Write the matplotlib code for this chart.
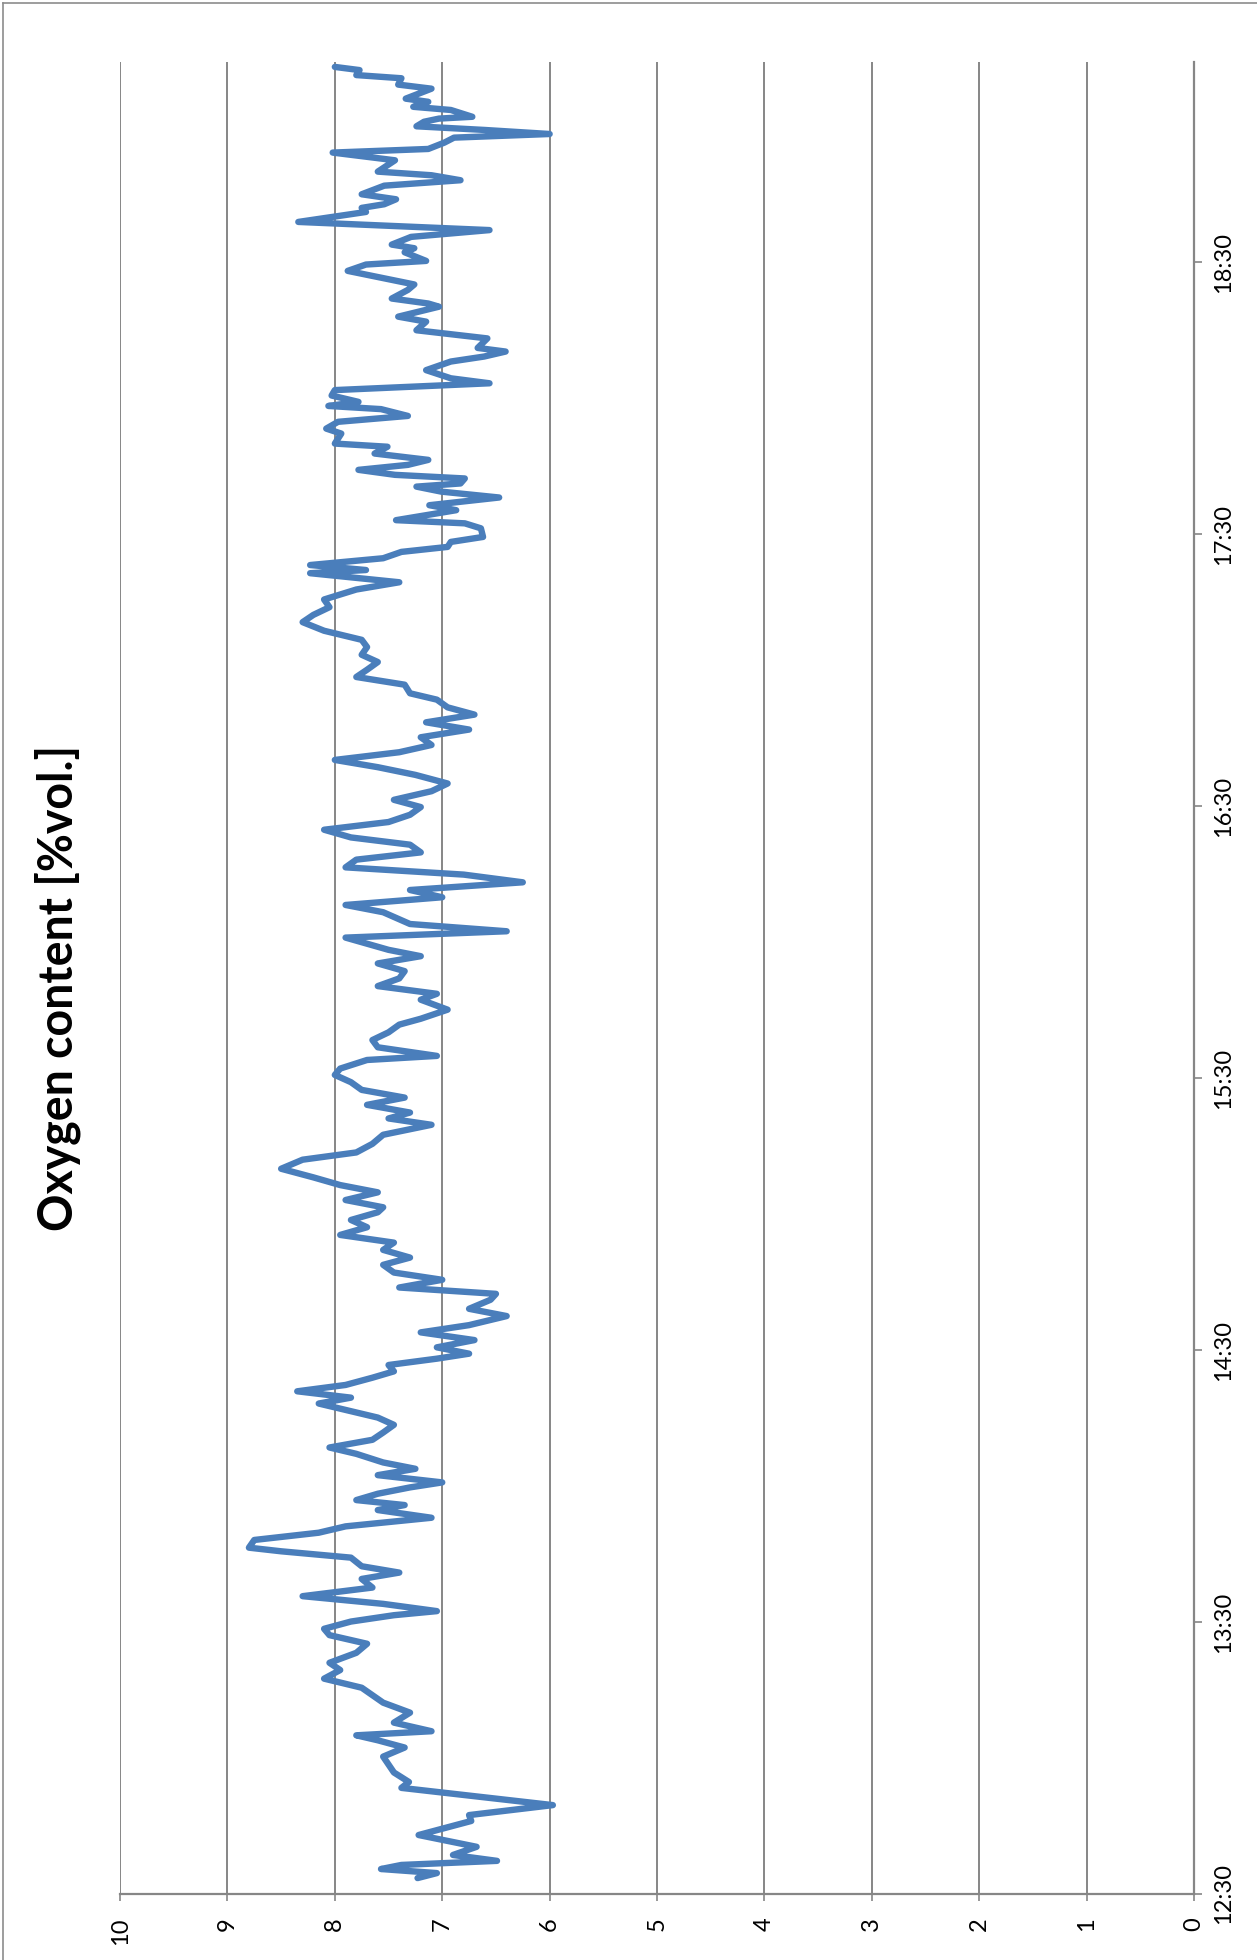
import matplotlib
matplotlib.use("Agg")
import matplotlib.pyplot as plt
from matplotlib.lines import Line2D

# Measurement log: minutes after 12:30 and oxygen content in %vol.
minutes = [
    3.5, 4.6, 5.5, 6.4, 7.3, 8.6, 10.4, 13.0, 16.1, 17.4, 19.6, 23.4, 24.7,
    26.8, 30.3, 32.3, 33.9, 35.0, 35.9, 37.8, 40.0, 42.2, 45.5, 47.5, 49.4,
    51.0, 53.2, 55.2, 57.1, 58.5, 60.1, 61.5, 62.4, 64.0, 65.7, 67.6, 69.5,
    70.9, 72.3, 74.2, 75.6, 76.4, 78.1, 79.7, 81.1, 83.0, 84.7, 85.8, 86.9,
    88.3, 89.7, 90.8, 92.4, 93.8, 95.2, 97.1, 98.5, 100.2, 101.8, 103.5,
    105.1, 106.8, 108.2, 109.5, 110.9, 112.3, 113.9, 115.3, 116.7, 118.1,
    119.2, 120.6, 122.2, 123.9, 125.5, 127.5, 129.1, 131.1, 132.4, 133.8,
    135.5, 137.1, 138.8, 140.4, 142.1, 143.7, 145.4, 147.1, 148.7, 150.4,
    151.5, 153.1, 154.8, 156.4, 158.1, 160.0, 162.0, 163.6, 165.5, 167.5,
    169.7, 171.1, 172.4, 174.1, 175.7, 177.4, 179.1, 180.7, 182.1, 184.0,
    184.9, 186.8, 188.4, 190.1, 191.8, 193.1, 195.1, 197.3, 198.6, 200.3,
    202.0, 203.6, 205.3, 206.9, 208.3, 210.0, 211.0, 212.4, 214.0, 216.6,
    218.2, 219.9, 221.5, 223.2, 224.9, 226.5, 228.2, 229.8, 231.5, 233.1,
    234.8, 236.5, 238.1, 239.8, 241.4, 243.3, 245.0, 246.9, 248.6, 250.2,
    251.9, 253.5, 255.2, 256.9, 258.5, 260.2, 261.8, 263.5, 264.9, 266.8,
    268.5, 270.1, 271.8, 273.4, 275.1, 276.7, 278.7, 280.6, 282.2, 283.9,
    285.6, 287.8, 289.4,
    291.4, 292.1, 293.2, 294.7, 296.1, 297.2, 298.3, 299.4, 301.3, 302.4,
    303.1, 305.3, 306.4, 308.1, 309.4, 310.5, 311.2, 312.3, 313.1, 314.2,
    315.3, 316.4, 317.8, 319.3, 320.0, 322.2, 323.3, 324.8, 326.1, 327.6,
    328.3, 329.2, 330.6, 331.8, 333.3, 334.4, 336.2, 338.1, 339.2, 340.3,
    341.1, 343.2, 344.3, 345.0, 346.9, 348.0, 350.2, 350.9, 352.0, 353.9,
    355.1, 358.1, 359.5, 360.3, 362.2, 363.1, 363.9, 365.6, 367.1, 368.9,
    371.1, 372.0, 372.8, 373.9, 375.0, 376.9, 378.1, 379.2, 380.0, 382.5,
    384.2, 385.0, 386.4, 387.5, 388.3, 389.2, 390.0, 391.0, 391.7, 392.1,
    393.6, 394.3, 395.4, 396.1, 398.3, 399.2, 400.6, 401.3, 402.4, 403.1,
]

o2 = [
    7.23, 7.05, 7.57, 7.38, 6.49, 6.90, 6.68, 7.22, 6.73, 6.75, 5.97, 7.38, 7.31,
    7.45, 7.55, 7.35, 7.60, 7.80, 7.10, 7.45, 7.30, 7.55, 7.75, 8.10, 7.95,
    8.05, 7.80, 7.70, 8.05, 8.10, 7.85, 7.45, 7.05, 7.55, 8.30, 7.65, 7.75,
    7.40, 7.75, 7.85, 8.50, 8.80, 8.75, 8.15, 7.90, 7.10, 7.60, 7.35, 7.80,
    7.60, 7.30, 7.00, 7.60, 7.25, 7.55, 7.80, 8.05, 7.65, 7.55, 7.45,
    7.60, 7.90, 8.15, 7.85, 8.35, 7.90, 7.65, 7.45, 7.50, 7.05,
    6.75, 7.05, 6.70, 7.20, 6.75, 6.40, 6.75, 6.55, 6.50, 7.40,
    7.00, 7.45, 7.55, 7.30, 7.55, 7.45, 7.95, 7.70, 7.85, 7.60,
    7.55, 7.90, 7.60, 7.95, 8.20, 8.50, 8.30, 7.80, 7.65, 7.55,
    7.10, 7.50, 7.30, 7.70, 7.35, 7.75, 7.85, 8.00, 7.95, 7.70,
    7.05, 7.60, 7.65, 7.50, 7.40, 7.20, 6.95, 7.20, 7.05, 7.60,
    7.40, 7.35, 7.60, 7.20, 7.50, 7.75, 7.90, 6.40, 7.30, 7.55,
    7.90, 7.00, 7.30, 6.25, 6.80, 7.90, 7.80, 7.20, 7.30, 7.85,
    8.10, 7.50, 7.30, 7.20, 7.45, 7.10, 6.95, 7.25, 7.60, 8.00,
    7.40, 7.10, 7.20, 6.75, 7.15, 6.70, 6.95, 7.05, 7.30, 7.35,
    7.80, 7.70, 7.60, 7.75, 7.70, 7.75, 8.10, 8.30, 8.20, 8.05,
    8.10, 7.80, 7.40,
    8.23, 7.71, 8.23, 7.55, 7.38, 6.95, 6.92, 6.62, 6.64, 6.79,
    7.43, 6.87, 7.12, 6.47, 7.01, 7.24, 6.83, 6.79, 7.44, 7.78,
    7.32, 7.13, 7.63, 7.51, 8.00, 7.94, 8.08, 7.97, 7.32, 7.57,
    8.06, 7.78, 8.03, 8.00, 6.56, 6.92, 7.15, 6.92, 6.61, 6.41,
    6.67, 6.58, 6.98, 7.24, 7.15, 7.41, 7.03, 7.13, 7.47, 7.32,
    7.26, 7.88, 7.71, 7.15, 7.35, 7.26, 7.47, 7.29, 6.56, 8.34,
    7.71, 7.75, 7.54, 7.43, 7.75, 7.54, 6.83, 7.10, 7.60, 7.44,
    8.02, 7.13, 6.98, 6.89, 6.00, 6.61, 7.24, 7.17, 7.03, 6.72,
    6.92, 7.27, 7.13, 7.34, 7.10, 7.41, 7.38, 7.80, 7.77, 8.00,
]

value_ticks = list(range(0, 11))
time_ticks = [0, 60, 120, 180, 240, 300, 360]
time_labels = ["12:30", "13:30", "14:30", "15:30", "16:30", "17:30", "18:30"]
title = "Oxygen content [%vol.]"

plt.rcParams["font.family"] = ["Lato", "DejaVu Sans"]

fig = plt.figure(figsize=(12.57, 19.60), dpi=100)
ax = fig.add_axes([0.0955, 0.0337, 0.8544, 0.9347])

grid_color = "#868686"

# Oxygen trace: value runs horizontally (10 on the left), time runs upward
ax.plot(o2, minutes, color="#4A7EBB", lw=4.6,
        solid_joinstyle="round", solid_capstyle="round", zorder=3)

ax.set_xlim(10, 0)
ax.set_ylim(0, 404.2)

ax.set_xticks(value_ticks)
ax.set_xticklabels([str(v) for v in value_ticks], rotation=90)
ax.xaxis.grid(True, color=grid_color, lw=1.4)
ax.set_axisbelow(True)

ax.yaxis.tick_right()
ax.set_yticks(time_ticks)
ax.set_yticklabels(time_labels, rotation=90, va="center")

ax.tick_params(axis="x", direction="out", length=5, width=1.2,
               color=grid_color, labelsize=17, pad=12)
ax.tick_params(axis="y", direction="out", length=6, width=1.2,
               color=grid_color, labelsize=17, pad=8)

for side in ("top", "left"):
    ax.spines[side].set_visible(False)
for side in ("bottom", "right"):
    ax.spines[side].set_color(grid_color)
    ax.spines[side].set_linewidth(1.6)

fig.text(0.046, 0.4959, title, rotation=90, ha="center", va="center",
         fontsize=33.5, fontweight="bold")

# Chart frame along the top and left edges
fig.add_artist(Line2D([0.0024, 0.0024], [0.0, 0.9985], transform=fig.transFigure,
                      color="#8c8c8c", lw=1.2))
fig.add_artist(Line2D([0.0024, 1.0], [0.9985, 0.9985], transform=fig.transFigure,
                      color="#8c8c8c", lw=1.2))

fig.savefig("out.png", dpi=100, facecolor="white")
